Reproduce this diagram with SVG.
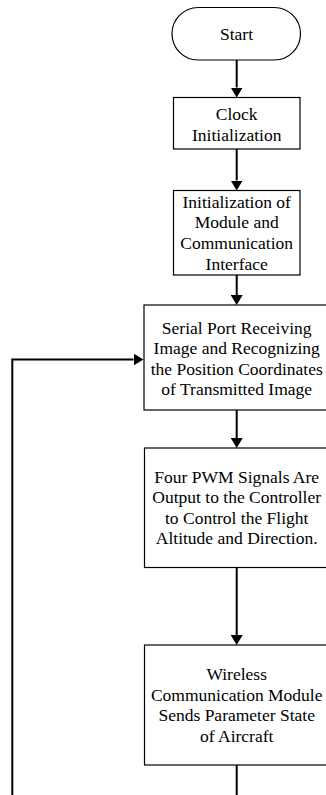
<svg xmlns="http://www.w3.org/2000/svg" width="326" height="795" viewBox="0 0 326 795">
<style>
.box{fill:#fff;stroke:#000;stroke-width:1.2}
.t{font-family:'Liberation Serif','Times New Roman',serif;font-size:17.5px;fill:#000;text-anchor:middle}
.c{fill:none;stroke:#000;stroke-width:2}
</style>
<defs>
<marker id="ah" markerUnits="userSpaceOnUse" markerWidth="10" markerHeight="12" refX="0" refY="6" orient="auto">
<path d="M0,0 L10,6 L0,12 z" fill="#000"/>
</marker>
</defs>
<rect width="326" height="795" fill="#fff"/>
<g id="connectors">
<line class="c" x1="236.7" y1="60" x2="236.7" y2="87.5" marker-end="url(#ah)"/>
<line class="c" x1="236.7" y1="149" x2="236.7" y2="180.5" marker-end="url(#ah)"/>
<line class="c" x1="236.7" y1="275" x2="236.7" y2="295" marker-end="url(#ah)"/>
<line class="c" x1="236.7" y1="410" x2="236.7" y2="438" marker-end="url(#ah)"/>
<line class="c" x1="236.7" y1="567.5" x2="236.7" y2="635" marker-end="url(#ah)"/>
<line class="c" x1="236.7" y1="765" x2="236.7" y2="795"/>
<polyline class="c" points="12.3,795 12.3,359.5 133.5,359.5" marker-end="url(#ah)"/>
</g>
<g id="start">
<rect class="box" x="172" y="7.5" width="128.5" height="52.5" rx="26.25" ry="26.25"/>
<text class="t" x="236.5" y="39.5">Start</text>
</g>
<g id="clock">
<rect class="box" x="173.5" y="97.5" width="126.5" height="51.5"/>
<text class="t" x="236.7" y="119.5">Clock</text>
<text class="t" x="236.7" y="140.5">Initialization</text>
</g>
<g id="init">
<rect class="box" x="173.5" y="190.5" width="126.5" height="84.5"/>
<text class="t" x="236.7" y="207.5">Initialization of</text>
<text class="t" x="236.7" y="228">Module and</text>
<text class="t" x="236.7" y="249">Communication</text>
<text class="t" x="236.7" y="269.5">Interface</text>
</g>
<g id="serial">
<rect class="box" x="144" y="305" width="186" height="105"/>
<text class="t" x="236.7" y="333.5">Serial Port Receiving</text>
<text class="t" x="236.7" y="354">Image and Recognizing</text>
<text class="t" x="236.7" y="374.5">the Position Coordinates</text>
<text class="t" x="236.7" y="395">of Transmitted Image</text>
</g>
<g id="pwm">
<rect class="box" x="144.5" y="448" width="186" height="119.5"/>
<text class="t" x="236.7" y="482.5">Four PWM Signals Are</text>
<text class="t" x="236.7" y="503">Output to the Controller</text>
<text class="t" x="236.7" y="523.5">to Control the Flight</text>
<text class="t" x="236.7" y="544">Altitude and Direction.</text>
</g>
<g id="wireless">
<rect class="box" x="144.5" y="645" width="186" height="120"/>
<text class="t" x="236.7" y="680">Wireless</text>
<text class="t" x="236.7" y="700.5">Communication Module</text>
<text class="t" x="236.7" y="721">Sends Parameter State</text>
<text class="t" x="236.7" y="741.5">of Aircraft</text>
</g>
</svg>
